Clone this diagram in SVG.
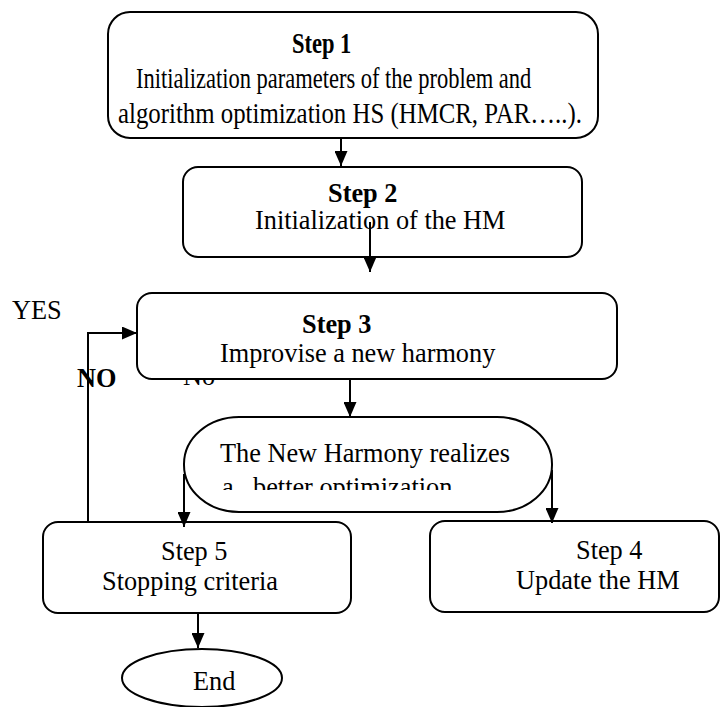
<svg xmlns="http://www.w3.org/2000/svg" width="720" height="707" viewBox="0 0 720 707">
<style>
.box{fill:#fff;stroke:#000;stroke-width:2}
.t{font-size:26.3px;fill:#000}
.s{font-size:22.5px;fill:#000}
.b{font-weight:bold}
.c{fill:none;stroke:#000;stroke-width:2}
</style>
<defs>
<marker id="ah" markerUnits="userSpaceOnUse" markerWidth="15" markerHeight="13" refX="15" refY="6.5" orient="auto">
<path d="M0,0 L15,6.5 L0,13 z" fill="#000"/>
</marker>
<clipPath id="clipOpt"><rect x="150" y="430" width="420" height="60"/></clipPath>
</defs>
<rect width="720" height="707" fill="#fff"/>
<g font-family="'Liberation Serif', 'Times New Roman', Times, serif">
<g id="labels">
<text class="t" x="12" y="319">YES</text>
<text class="t b" x="77" y="387">NO</text>
<text class="t" x="183" y="385">No</text>
</g>
<g id="step1">
<rect class="box" x="108" y="12" width="490" height="126" rx="22"/>
<text class="s b" transform="translate(292,53) scale(1,1.3)">Step 1</text>
<text class="s" transform="translate(136,88) scale(1,1.3)">Initialization parameters of the problem and</text>
<text class="s" transform="translate(118,123) scale(1,1.3)" textLength="464" lengthAdjust="spacingAndGlyphs">algorithm optimization HS (HMCR, PAR…..).</text>
</g>
<g id="step2">
<rect class="box" x="183" y="167" width="399" height="90" rx="15"/>
<text class="t b" x="328" y="202">Step 2</text>
<text class="t" x="255" y="229">Initialization of the HM</text>
</g>
<g id="step3">
<rect class="box" x="137" y="293" width="480" height="86" rx="15"/>
<text class="t b" x="302" y="333">Step 3</text>
<text class="t" x="220" y="362">Improvise a new harmony</text>
</g>
<g id="decision">
<rect class="box" x="184" y="417" width="368" height="95" rx="55" ry="47"/>
<text class="t" x="220" y="462">The New Harmony realizes</text>
<g clip-path="url(#clipOpt)">
<text class="t" x="222" y="496">a</text>
<text class="t" x="253" y="496">better optimization</text>
</g>
</g>
<g id="step5">
<rect class="box" x="43" y="522" width="308" height="91" rx="15"/>
<text class="t" x="161" y="560">Step 5</text>
<text class="t" x="102" y="590">Stopping criteria</text>
</g>
<g id="step4">
<rect class="box" x="430" y="521" width="289" height="91" rx="15"/>
<text class="t" x="576" y="559">Step 4</text>
<text class="t" x="516" y="589">Update the HM</text>
</g>
<g id="end">
<ellipse class="box" cx="202" cy="678" rx="80" ry="29"/>
<text class="t" x="193" y="690">End</text>
</g>
</g>
<g id="connectors">
<line class="c" x1="341" y1="138" x2="341" y2="166" marker-end="url(#ah)"/>
<line class="c" x1="370" y1="222" x2="370" y2="272" marker-end="url(#ah)"/>
<line class="c" x1="350" y1="379" x2="350" y2="417" marker-end="url(#ah)"/>
<line class="c" x1="184" y1="474" x2="184" y2="527" marker-end="url(#ah)"/>
<line class="c" x1="552" y1="470" x2="552" y2="523" marker-end="url(#ah)"/>
<line class="c" x1="198" y1="613" x2="198" y2="648" marker-end="url(#ah)"/>
<polyline class="c" points="88,522 88,333 137,333" marker-end="url(#ah)"/>
</g>
</svg>
